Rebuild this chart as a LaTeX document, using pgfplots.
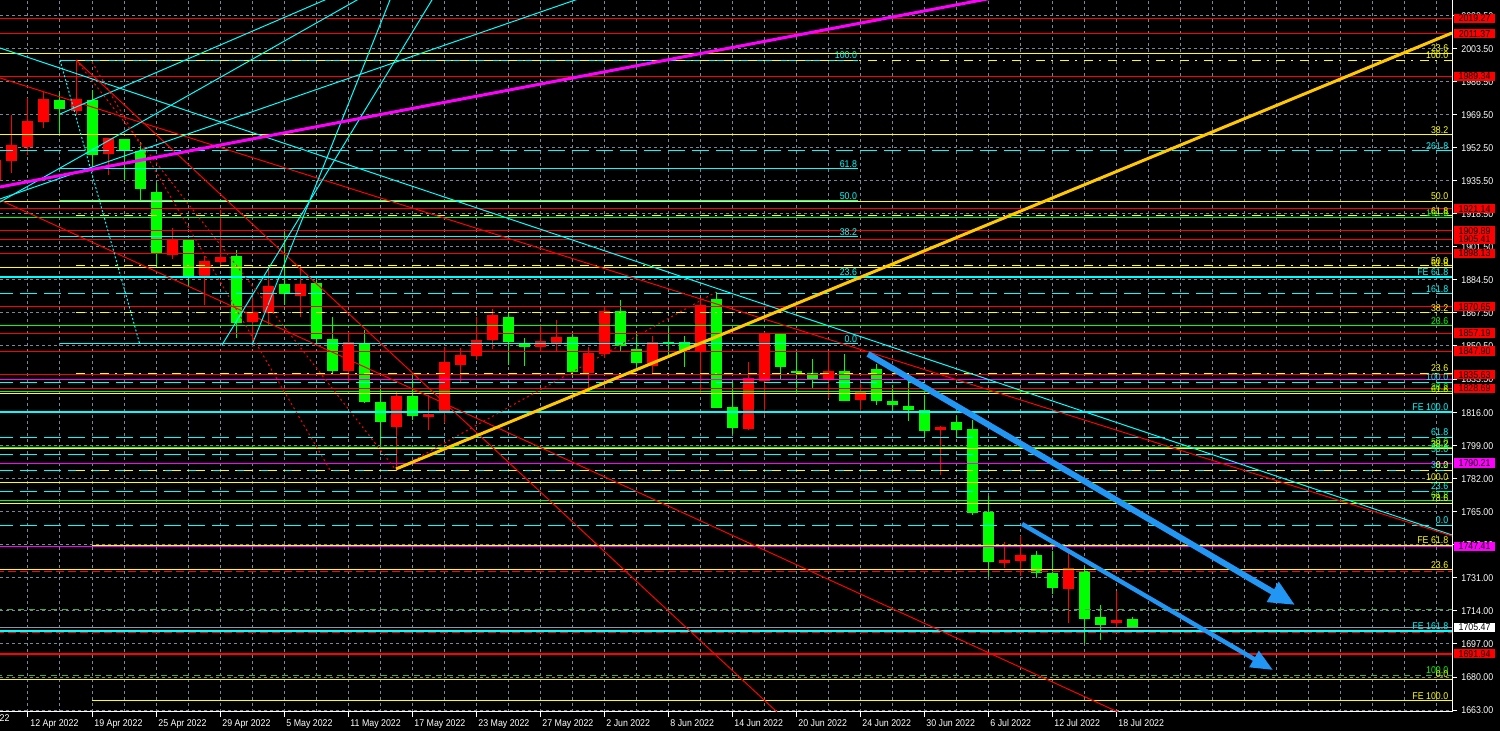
\documentclass[border=0pt]{standalone}
\usepackage{pgfplots}
\pgfplotsset{compat=1.18}
\usepackage{pgfplotstable}
\usetikzlibrary{arrows.meta}
\usepackage{fontspec}
\setmainfont{Liberation Sans}
\newfontfamily\mtfont[FakeStretch=0.9]{Liberation Sans}
\newcommand{\mt}{\mtfont\fontsize{4.9}{5.5}\selectfont}

\definecolor{mtred}{RGB}{255,0,0}
\definecolor{mtgreen}{RGB}{0,255,0}
\definecolor{mtyellow}{RGB}{255,255,0}
\definecolor{mtcyan}{RGB}{0,255,255}
\definecolor{mtmag}{RGB}{255,0,255}
\definecolor{mtgold}{RGB}{255,200,0}
\definecolor{gridgray}{RGB}{119,136,153}
\definecolor{dgreen}{RGB}{70,170,70}
\definecolor{arrowblue}{RGB}{33,150,243}
\definecolor{pricegray}{RGB}{140,150,170}

% daily candles, i = bar number (12 Apr 2022 = 1)
\pgfplotstableread{
i  o       h       l       c
-1 1936.02 1951.47 1931.90 1946.32
0  1945.81 1969.50 1939.62 1954.05
1  1953.02 1978.26 1948.90 1966.41
2  1965.90 1981.50 1962.80 1977.74
3  1977.23 1980.83 1960.23 1972.59
4  1971.72 1997.83 1969.50 1977.74
5  1977.23 1982.38 1942.71 1948.90
6  1949.41 1957.65 1938.59 1957.65
7  1957.14 1957.14 1936.02 1950.96
8  1950.96 1955.59 1925.72 1931.38
9  1929.84 1934.47 1891.20 1897.90
10 1897.38 1911.29 1895.32 1905.63
11 1905.11 1905.11 1880.90 1886.05
12 1885.54 1896.87 1871.63 1894.29
13 1893.78 1920.56 1892.23 1896.35
14 1896.87 1899.96 1854.63 1862.36
15 1862.87 1875.75 1849.99 1868.02
16 1867.51 1892.23 1861.33 1881.42
17 1882.45 1909.23 1871.63 1877.29
18 1876.26 1892.23 1865.45 1882.45
19 1882.96 1884.51 1852.05 1854.11
20 1854.11 1865.45 1835.57 1837.63
21 1837.63 1857.72 1831.96 1852.57
22 1852.05 1858.75 1821.15 1821.66
23 1821.66 1828.36 1799.51 1811.36
24 1808.78 1826.81 1786.63 1824.75
25 1824.75 1835.57 1812.39 1814.45
26 1813.93 1825.27 1807.24 1815.48
27 1816.51 1849.99 1810.84 1842.27
28 1840.72 1849.48 1831.96 1845.87
29 1845.36 1865.45 1843.30 1853.60
30 1853.60 1869.57 1848.96 1866.48
31 1865.45 1868.02 1840.72 1852.57
32 1852.05 1854.63 1840.21 1849.99
33 1849.99 1861.84 1847.42 1853.08
34 1852.05 1863.90 1847.93 1855.14
35 1855.14 1857.21 1834.03 1837.12
36 1836.60 1849.99 1828.87 1846.90
37 1846.39 1870.60 1844.33 1868.54
38 1868.54 1874.20 1847.42 1850.51
39 1848.96 1857.72 1839.69 1841.75
40 1840.21 1855.66 1836.60 1852.57
41 1852.57 1859.78 1844.84 1852.05
42 1852.57 1855.66 1839.69 1848.45
43 1847.42 1875.23 1826.30 1871.63
44 1874.72 1878.32 1818.57 1818.57
45 1819.09 1831.96 1805.18 1808.27
46 1807.75 1842.27 1807.24 1834.03
47 1832.48 1857.72 1814.97 1857.21
48 1856.69 1856.69 1833.51 1839.69
49 1837.63 1847.42 1826.81 1836.60
50 1836.60 1843.81 1828.87 1833.51
51 1832.99 1847.42 1823.72 1837.63
52 1837.63 1846.39 1822.18 1822.18
53 1822.69 1831.45 1816.51 1827.33
54 1838.66 1841.24 1820.12 1822.18
55 1822.18 1830.42 1817.54 1820.12
56 1819.60 1832.99 1811.87 1817.54
57 1817.54 1825.27 1803.12 1806.72
58 1807.24 1809.30 1784.06 1808.78
59 1811.36 1814.45 1803.12 1807.24
60 1807.75 1812.39 1763.45 1764.48
61 1765.00 1773.24 1731.52 1739.24
62 1738.73 1749.54 1736.15 1740.27
63 1739.76 1752.64 1732.03 1742.85
64 1742.85 1744.91 1731.00 1733.58
65 1733.58 1744.91 1722.76 1725.85
66 1725.33 1743.88 1707.82 1736.15
67 1734.61 1736.67 1697.52 1709.88
68 1710.91 1717.09 1699.06 1706.79
69 1707.82 1724.30 1705.76 1709.37
70 1709.88 1710.91 1705.20 1705.47
}\candles

% horizontal line: style, x from, x to, price
\newcommand{\hl}[4]{\addplot[forget plot,line width=0.5pt,#1] coordinates {(#2,#4) (#3,#4)};}
% level text at the right edge / at the end of the fibo
\newcommand{\rl}[3]{\node[lab,text=#1] at (axis cs:89.85,#2) {#3};}
\newcommand{\ml}[3]{\node[lab,text=#1] at (axis cs:52.9,#2) {#3};}
% price box on the scale
\newcommand{\pb}[3]{\node[pbox,fill=#1,text=#2] at (axis cs:91.41,#3) {#3};}

\begin{document}
\begin{tikzpicture}[font=\mt,
  lab/.style={anchor=south east,inner sep=0.5pt,font=\mt},
  pbox/.style={minimum width=20.5pt,minimum height=4.6pt,inner sep=0pt,font=\mt}]
\fill[black] (0,-9.5pt) rectangle (750pt,355.98pt);
\useasboundingbox (0,-9.5pt) rectangle (750pt,355.98pt);
\begin{axis}[
  at={(0,0)}, anchor=south west,
  scale only axis, width=726pt, height=355.98pt,
  xmin=-0.75, xmax=90, ymin=1662, ymax=2028.74,
  clip mode=individual,
  axis x line*=bottom, axis y line*=right,
  axis line style={-, white, line width=0.5pt},
  tick align=outside,
  major tick length=2.5pt, minor tick length=0pt,
  xtick={1,5,...,69},
  xticklabels={12 Apr 2022,19 Apr 2022,25 Apr 2022,29 Apr 2022,5 May 2022,11 May 2022,17 May 2022,23 May 2022,27 May 2022,2 Jun 2022,8 Jun 2022,14 Jun 2022,20 Jun 2022,24 Jun 2022,30 Jun 2022,6 Jul 2022,12 Jul 2022,18 Jul 2022},
  minor xtick={3,7,...,67,71,73,...,89},
  ytick={1663,1680,1697,1714,1731,1748,1765,1782,1799,1816,1833.5,1850.5,1867.5,1884.5,1901.5,1918.5,1935.5,1952.5,1969.5,1986.5,2003.5,2020.5},
  yticklabels={1663.00,1680.00,1697.00,1714.00,1731.00,1748.00,1765.00,1782.00,1799.00,1816.00,1833.50,1850.50,1867.50,1884.50,1901.50,1918.50,1935.50,1952.50,1969.50,1986.50,2003.50,2020.50},
  tick style={white, line width=0.5pt},
  xticklabel style={anchor=north west, inner sep=1pt, text=white, font=\mt},
  yticklabel style={anchor=west, inner sep=1pt, xshift=1pt, text=white, font=\mt},
  grid=both,
  major grid style={gridgray, dash pattern=on 1.5pt off 1.5pt, line width=0.5pt},
  minor grid style={gridgray, dash pattern=on 1.5pt off 1.5pt, line width=0.5pt},
]

% ---- candles: wicks, then bodies (red = up, green = down)
\addplot[forget plot, draw=none, mark=none,
  restrict expr to domain={\thisrow{c}-\thisrow{o}}{0:10000},
  error bars/.cd, y dir=both, y explicit, error mark=none,
  error bar style={line width=0.5pt, draw=mtred}]
  table[x=i, y expr={(\thisrow{h}+\thisrow{l})/2}, y error expr={(\thisrow{h}-\thisrow{l})/2}] {\candles};
\addplot[forget plot, draw=none, mark=none,
  restrict expr to domain={\thisrow{o}-\thisrow{c}}{0.0001:10000},
  error bars/.cd, y dir=both, y explicit, error mark=none,
  error bar style={line width=0.5pt, draw=mtgreen}]
  table[x=i, y expr={(\thisrow{h}+\thisrow{l})/2}, y error expr={(\thisrow{h}-\thisrow{l})/2}] {\candles};
\addplot[forget plot, draw=none, mark=none,
  restrict expr to domain={\thisrow{c}-\thisrow{o}}{0:10000},
  error bars/.cd, y dir=both, y explicit, error mark=none,
  error bar style={line width=5.5pt, draw=mtred}]
  table[x=i, y expr={(\thisrow{o}+\thisrow{c})/2}, y error expr={max((\thisrow{c}-\thisrow{o})/2,0.5)}] {\candles};
\addplot[forget plot, draw=none, mark=none,
  restrict expr to domain={\thisrow{o}-\thisrow{c}}{0.0001:10000},
  error bars/.cd, y dir=both, y explicit, error mark=none,
  error bar style={line width=5.5pt, draw=mtgreen}]
  table[x=i, y expr={(\thisrow{o}+\thisrow{c})/2}, y error expr={max((\thisrow{o}-\thisrow{c})/2,0.5)}] {\candles};

% ---- dashed levels
\hl{mtcyan, dash pattern=on 8.5pt off 3.5pt}{-1}{91}{1950.96}
\hl{mtcyan, dash pattern=on 8.5pt off 3.5pt}{-1}{91}{1877.29}
\hl{mtcyan, dash pattern=on 8.5pt off 3.5pt}{-1}{91}{1831.81}
\hl{mtcyan, dash pattern=on 8.5pt off 3.5pt}{-1}{91}{1803.48}
\hl{mtcyan, dash pattern=on 8.5pt off 3.5pt}{-1}{91}{1794.72}
\hl{mtcyan, dash pattern=on 8.5pt off 3.5pt}{-1}{91}{1786.48}
\hl{mtcyan, dash pattern=on 8.5pt off 3.5pt}{-1}{91}{1775.66}
\hl{mtcyan, dash pattern=on 8.5pt off 3.5pt}{-1}{91}{1758.15}
\hl{dgreen, dash pattern=on 3pt off 2.5pt}{-1}{91}{1714.88}
\hl{dgreen, dash pattern=on 3pt off 2.5pt}{-1}{91}{1680.88}
\hl{mtred, dash pattern=on 4pt off 2pt}{-1}{91}{1734.35}
\hl{mtred, dash pattern=on 4pt off 2pt}{-1}{91}{1703.03}

% ---- solid levels
\hl{mtyellow}{-1}{91}{2001.28}
\hl{mtyellow}{-1}{91}{1959.20}
\hl{mtyellow}{-1}{91}{1924.94}
\hl{mtyellow}{-1}{91}{1890.69}
\hl{mtyellow}{-1}{91}{1825.78}
\hl{mtyellow}{-1}{91}{1797.45}
\hl{mtyellow}{-1}{91}{1780.30}
\hl{mtyellow}{-1}{91}{1769.48}
\hl{mtyellow}{-1}{91}{1735.12}
\hl{mtyellow}{-1}{91}{1678.97}
\hl{mtgreen}{-1}{91}{1916.44}
\hl{mtgreen}{-1}{91}{1860.81}
\hl{mtgreen}{-1}{91}{1826.81}
\hl{mtgreen}{-1}{91}{1798.33}
\hl{mtgreen}{-1}{91}{1771.02}
\hl{mtmag}{-1}{91}{1833.35}
\hl{mtmag}{-1}{91}{1790.21}
\hl{mtmag}{-1}{91}{1747.41}
\hl{mtyellow}{5}{91}{1747.9}
\hl{mtyellow}{5}{91}{1667.64}
\hl{pricegray}{-1}{91}{1705.47}
\hl{mtcyan, line width=1pt}{-1}{91}{1885.79}
\hl{mtcyan, line width=1pt}{-1}{91}{1816.35}
\hl{mtcyan, line width=1pt}{-1}{91}{1703.70}
\hl{mtred}{-1}{91}{2019.27}
\hl{mtred}{-1}{91}{2011.37}
\hl{mtred}{-1}{91}{1989.34}
\hl{mtred}{-1}{91}{1921.14}
\hl{mtred}{-1}{91}{1909.89}
\hl{mtred}{-1}{91}{1905.41}
\hl{mtred}{-1}{91}{1898.13}
\hl{mtred}{-1}{91}{1870.65}
\hl{mtred}{-1}{91}{1857.19}
\hl{mtred}{-1}{91}{1847.90}
\hl{mtred}{-1}{91}{1835.63}
\hl{mtred}{-1}{91}{1828.69}
\hl{mtred, line width=1pt}{-1}{91}{1691.94}
% fibo (cyan, short)
\hl{mtcyan}{3}{52.9}{1997.68}
\hl{mtcyan}{3}{52.9}{1941.68}
\hl{mtcyan}{3}{52.9}{1925.20}
\hl{mtcyan}{3}{52.9}{1906.66}
\hl{mtcyan}{3}{52.9}{1851.54}
% fibo (yellow, dash dot)
\hl{mtyellow, dash pattern=on 4.5pt off 3pt on 1pt off 3.5pt}{4}{91}{1997.68}
\hl{mtyellow, dash pattern=on 4.5pt off 3pt on 1pt off 3.5pt}{4}{91}{1917.47}
\hl{mtyellow, dash pattern=on 4.5pt off 3pt on 1pt off 3.5pt}{4}{91}{1891.87}
\hl{mtyellow, dash pattern=on 4.5pt off 3pt on 1pt off 3.5pt}{4}{91}{1867.51}
\hl{mtyellow, dash pattern=on 4.5pt off 3pt on 1pt off 3.5pt}{4}{91}{1836.45}
\hl{mtyellow, dash pattern=on 4.5pt off 3pt on 1pt off 3.5pt}{4}{91}{1786.48}

% ---- trend lines
\addplot[forget plot, mtcyan, line width=0.5pt] coordinates {(-0.75,2004.01) (90,1753.15)};
\addplot[forget plot, mtred, line width=0.5pt] coordinates {(-0.75,1988.56) (90,1752.64)};
\addplot[forget plot, mtred, line width=0.5pt] coordinates {(-0.75,1925.72) (70,1658.67)};
\addplot[forget plot, mtred, line width=0.5pt] coordinates {(4,1997.83) (48.5,1656.7)};
\addplot[forget plot, mtcyan, line width=0.5pt] coordinates {(3,1970.02) (20.5,2032.1)};
\addplot[forget plot, mtcyan, line width=0.5pt] coordinates {(-0.75,1924.69) (22.5,2033.1)};
\addplot[forget plot, mtcyan, line width=0.5pt] coordinates {(-0.75,1926.23) (36,2031.0)};
\addplot[forget plot, mtcyan, line width=0.5pt] coordinates {(15,1851.02) (24,2036.5)};
\addplot[forget plot, mtcyan, line width=0.5pt] coordinates {(13.125,1851.02) (26.6,2033.5)};
\addplot[forget plot, mtcyan, line width=0.5pt, dash pattern=on 1pt off 1pt] coordinates {(3,1997.83) (8,1851.02)};
\addplot[forget plot, mtred, line width=0.5pt, dash pattern=on 1pt off 1.5pt] coordinates {(4,1997.83) (24,1786.63)};
\addplot[forget plot, mtred, line width=0.5pt, dash pattern=on 1pt off 1.5pt] coordinates {(5,1996.80) (19.875,1786.63)};
\addplot[forget plot, mtred, line width=0.5pt, dash pattern=on 1pt off 1.5pt] coordinates {(24,1786.63) (44,1878.32)};
\addplot[forget plot, mtmag, line width=1.5pt] coordinates {(-0.75,1932.41) (62,2030.9)};
\addplot[forget plot, mtgold, line width=1.5pt] coordinates {(24,1787.15) (90,2011.74)};
\addplot[forget plot, arrowblue, line width=3pt, -{Triangle[length=13pt,width=11pt]}] coordinates {(53.5,1846.39) (80.19,1717.09)};
\addplot[forget plot, arrowblue, line width=2.2pt, -{Triangle[length=11pt,width=9pt]}] coordinates {(63.125,1758.82) (78.81,1683.61)};

% ---- level texts
\ml{mtcyan}{1997.68}{100.0}
\ml{mtcyan}{1941.68}{61.8}
\ml{mtcyan}{1925.20}{50.0}
\ml{mtcyan}{1906.66}{38.2}
\ml{mtcyan}{1885.79}{23.6}
\ml{mtcyan}{1851.54}{0.0}
\rl{mtyellow}{2001.28}{23.6}
\rl{mtyellow}{1997.68}{100.0}
\rl{mtyellow}{1959.20}{38.2}
\rl{mtcyan}{1950.96}{261.8}
\rl{mtyellow}{1924.94}{50.0}
\rl{mtgreen}{1916.44}{161.8}
\rl{mtyellow}{1917.47}{61.8}
\rl{mtyellow}{1891.87}{50.0}
\rl{mtyellow}{1890.69}{61.8}
\rl{mtcyan}{1885.79}{FE 61.8}
\rl{mtcyan}{1877.29}{161.8}
\rl{mtyellow}{1867.51}{38.2}
\rl{mtgreen}{1860.81}{23.6}
\rl{mtyellow}{1836.45}{23.6}
\rl{mtcyan}{1831.81}{100.0}
\rl{mtgreen}{1826.81}{38.2}
\rl{mtyellow}{1825.78}{61.8}
\rl{mtcyan}{1816.35}{FE 100.0}
\rl{mtcyan}{1803.48}{61.8}
\rl{mtgreen}{1798.33}{50.0}
\rl{mtyellow}{1797.45}{38.2}
\rl{mtcyan}{1794.72}{50.0}
\rl{mtcyan}{1786.48}{38.2}
\rl{mtyellow}{1786.48}{0.0}
\rl{mtyellow}{1780.30}{100.0}
\rl{mtcyan}{1775.66}{23.6}
\rl{mtgreen}{1771.02}{61.8}
\rl{mtyellow}{1769.48}{78.6}
\rl{mtcyan}{1758.15}{0.0}
\rl{mtyellow}{1747.9}{FE 61.8}
\rl{mtyellow}{1735.12}{23.6}
\rl{mtcyan}{1703.70}{FE 161.8}
\rl{mtgreen}{1680.88}{100.0}
\rl{mtyellow}{1678.97}{0.0}
\rl{mtyellow}{1667.64}{FE 100.0}

% ---- price boxes on the scale
\pb{mtred}{black}{2019.27}
\pb{mtred}{black}{2011.37}
\pb{mtred}{black}{1989.34}
\pb{mtred}{black}{1921.14}
\pb{mtred}{black}{1909.89}
\pb{mtred}{black}{1905.41}
\pb{mtred}{black}{1898.13}
\pb{mtred}{black}{1870.65}
\pb{mtred}{black}{1857.19}
\pb{mtred}{black}{1847.90}
\pb{mtred}{black}{1835.63}
\pb{mtred}{black}{1828.69}
\pb{mtmag}{black}{1790.21}
\pb{mtmag}{black}{1747.41}
\pb{white}{black}{1705.47}
\pb{mtred}{black}{1691.94}

% date cut off at the left edge
\node[anchor=north west, inner sep=1pt, text=white, font=\mt] at (axis cs:-3,1662) {6 Apr 2022};
\end{axis}
\end{tikzpicture}
\end{document}
